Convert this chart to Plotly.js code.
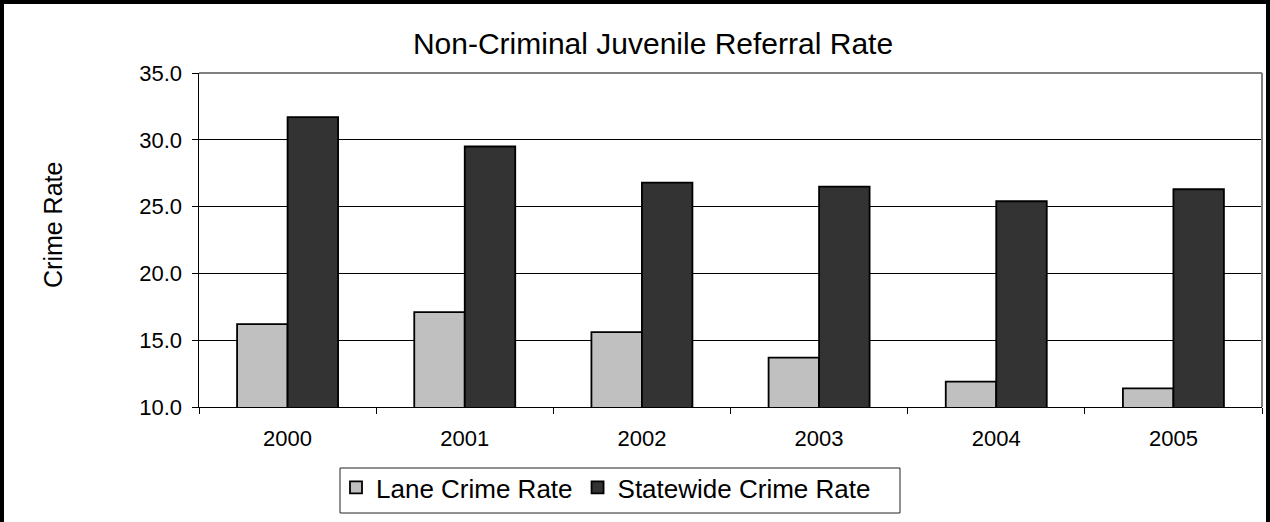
<!DOCTYPE html>
<html>
<head>
<meta charset="utf-8">
<script src="https://cdn.plot.ly/plotly-3.0.1.min.js"></script>
<style>
html,body{margin:0;padding:0;background:#fff;}
#chart{width:1270px;height:522px;}
</style>
</head>
<body>
<div id="chart"></div>
<script>
const years = ['2000', '2001', '2002', '2003', '2004', '2005'];
const laneRate = [16.2, 17.1, 15.6, 13.7, 11.9, 11.4];
const statewideRate = [31.7, 29.5, 26.8, 26.5, 25.4, 26.3];
const yTicks = [10, 15, 20, 25, 30, 35];

const W = 1270, H = 522;
const M = {l: 199, r: 8, t: 73, b: 115};
const pw = W - M.l - M.r, ph = H - M.t - M.b;
const px = v => (v - M.l) / pw;
const py = v => (H - M.b - v) / ph;

const FONT = 'Arial, "Liberation Sans", sans-serif';

const traces = [
  {
    type: 'bar', name: 'Lane Crime Rate', x: years, y: laneRate,
    marker: {color: '#C0C0C0', line: {color: '#000000', width: 1.8}},
    hoverinfo: 'x+y'
  },
  {
    type: 'bar', name: 'Statewide Crime Rate', x: years, y: statewideRate,
    marker: {color: '#333333', line: {color: '#000000', width: 1.8}},
    hoverinfo: 'x+y'
  }
];

const layout = {
  width: W, height: H,
  margin: M,
  paper_bgcolor: '#ffffff', plot_bgcolor: '#ffffff',
  font: {family: FONT, color: '#000000', size: 22},
  barmode: 'group', bargap: 0.43, bargroupgap: 0,
  title: {
    text: 'Non-Criminal Juvenile Referral Rate',
    font: {family: FONT, size: 30, color: '#000'},
    xref: 'container', yref: 'container',
    x: 653 / W, y: 1 - 43 / H, xanchor: 'center', yanchor: 'middle'
  },
  xaxis: {
    type: 'category',
    showline: true, linecolor: '#000', linewidth: 1,
    ticks: 'outside', ticklen: 6, tickcolor: '#000', tickwidth: 1,
    tickson: 'boundaries',
    ticklabelstandoff: 12,
    showgrid: false, zeroline: false,
    tickfont: {family: FONT, size: 22, color: '#000'},
    fixedrange: true
  },
  yaxis: {
    range: [10, 35], tickvals: yTicks, tickformat: '.1f',
    showline: true, linecolor: '#000', linewidth: 1.5,
    ticks: 'outside', ticklen: 6, tickcolor: '#000', tickwidth: 1,
    ticklabelstandoff: 5,
    showgrid: true, gridcolor: '#000', gridwidth: 1,
    zeroline: false,
    tickfont: {family: FONT, size: 22, color: '#000'},
    fixedrange: true
  },
  showlegend: true,
  legend: {
    orientation: 'h',
    x: px(336), y: py(464), xanchor: 'left', yanchor: 'top',
    borderwidth: 0, bgcolor: 'rgba(0,0,0,0)',
    font: {family: FONT, size: 26, color: '#000'},
    itemwidth: 30, tracegroupgap: 0, traceorder: 'normal'
  },
  annotations: [
    {text: 'Crime Rate', xref: 'paper', yref: 'paper', x: px(53), y: py(225),
     xanchor: 'center', yanchor: 'middle', textangle: -90, showarrow: false,
     font: {family: FONT, size: 25, color: '#000'}}
  ],
  shapes: [
    {type: 'line', xref: 'paper', yref: 'paper', x0: 0, x1: 1, y0: 1, y1: 1,
     line: {color: '#808080', width: 2}},
    {type: 'line', xref: 'paper', yref: 'paper', x0: 1, x1: 1, y0: 0, y1: 1,
     line: {color: '#808080', width: 2}},
    {type: 'rect', xref: 'paper', yref: 'paper',
     x0: px(340), x1: px(900), y0: py(513), y1: py(468),
     line: {color: '#222', width: 1}, fillcolor: 'rgba(0,0,0,0)', layer: 'below'},
    {type: 'rect', xref: 'paper', yref: 'paper',
     x0: px(2), x1: px(1268), y0: py(540), y1: py(2),
     line: {color: '#000', width: 4}, fillcolor: 'rgba(0,0,0,0)', layer: 'above'}
  ]
};

Plotly.newPlot('chart', traces, layout, {displayModeBar: false, staticPlot: true});
</script>
</body>
</html>
